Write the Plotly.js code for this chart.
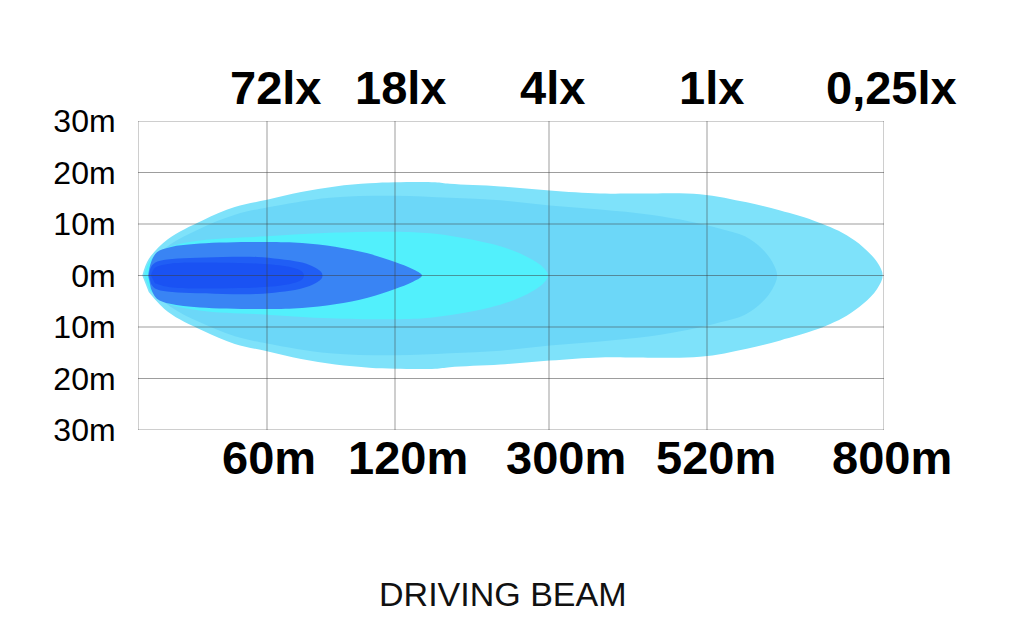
<!DOCTYPE html>
<html>
<head>
<meta charset="utf-8">
<script src="https://cdn.plot.ly/plotly-3.0.1.min.js"></script>
<style>
  html, body { margin: 0; padding: 0; background: #fff; }
  #chart { width: 1024px; height: 640px; }
</style>
</head>
<body>
<div id="chart"></div>
<script>
// ---------- DATA ----------
// distance gridlines (metres) and their labels
const distanceTicks = [0, 60, 120, 300, 520, 800];
const distanceLabels = ['60m', '120m', '300m', '520m', '800m'];
const luxLabels = ['72lx', '18lx', '4lx', '1lx', '0,25lx'];
// lateral gridlines (metres)
const lateralTicks = [30, 20, 10, 0, -10, -20, -30];
const lateralLabels = ['30m', '20m', '10m', '0m', '10m', '20m', '30m'];

// beam contours: distance (m) and half-width (m)
const outerDist = [2, 5, 14, 30, 45, 60, 76, 92, 108, 120, 167, 184, 243, 301, 371, 417, 510, 583, 636, 688, 715, 741, 767, 789, 798];
const outerHalf = [0, 3.2, 7.1, 10.7, 13.3, 14.7, 16.2, 17.3, 17.9, 18.1, 18.1, 17.8, 17.3, 16.5, 15.9, 15.9, 15.8, 14.2, 12.6, 10.7, 9.4, 7.8, 5.5, 2.6, 0];

const secondDist = [3.3, 5.6, 14.9, 28.8, 45.1, 60, 89.5, 120, 184, 243, 301, 371, 441, 496, 541, 580, 607, 624, 631];
const secondHalf = [0, 2.5, 6.0, 9.1, 11.8, 13.2, 15.1, 15.5, 15.1, 14.6, 13.6, 12.8, 11.8, 10.5, 9.1, 7.6, 5.2, 2.5, 0];

const cyanDist = [2.8, 5.6, 12.6, 28.8, 60, 89.5, 120, 161, 196, 231, 260, 280, 293, 299];
const cyanHalf = [0, 2.9, 5.2, 6.8, 7.6, 8.3, 8.5, 8.2, 7.4, 6.2, 4.7, 3.1, 1.6, 0];

const blueDist = [4.7, 6.0, 8.8, 14.9, 28.8, 60, 76.4, 91.9, 107.2, 120, 139.8, 151.5];
const blueHalf = [0, 2.5, 4.5, 5.5, 6.2, 6.5, 6.3, 5.6, 4.3, 2.6, 1.3, 0];

const darkDist = [5.1, 6.0, 7.9, 13.5, 24.2, 39.5, 55.3, 65.9, 75.3, 81.3, 85.4, 86];
const darkHalf = [0, 1.6, 2.5, 3.1, 3.4, 3.6, 3.6, 3.2, 2.6, 1.8, 0.7, 0];

const coreDist = [6, 7.9, 14.9, 38.1, 56.7, 70.3, 76.4, 77.3];
const coreHalf = [0, 1.5, 2.3, 2.5, 2.3, 1.7, 0.8, 0];

// ---------- LAYOUT CONFIG ----------
// display position of each distance gridline on the (non-uniform) horizontal scale
const tickSlot = [0, 129, 257, 411, 569, 746];
const luxShift = [8, 5, 3, 4, 7];
const distShift = [2, 13, 17, 9, 8];

function toAxis(m) {
  for (let i = 1; i < distanceTicks.length; i++) {
    if (m <= distanceTicks[i]) {
      const a = distanceTicks[i - 1], b = distanceTicks[i];
      return tickSlot[i - 1] + (m - a) / (b - a) * (tickSlot[i] - tickSlot[i - 1]);
    }
  }
  return tickSlot[tickSlot.length - 1];
}

function contour(dist, half, color) {
  const inner = dist.slice(1, -1).reverse();
  const innerH = half.slice(1, -1).reverse();
  const xs = dist.map(toAxis).concat(inner.map(toAxis));
  const ys = half.slice().concat(innerH.map(v => -v));
  return {
    type: 'scatter', mode: 'lines', x: xs, y: ys,
    fill: 'toself', fillcolor: color,
    line: { width: 0, shape: 'spline', smoothing: 1, color: color },
    hoverinfo: 'skip', showlegend: false
  };
}

const traces = [
  contour(outerDist, outerHalf, '#7ee2fa'),
  contour(secondDist, secondHalf, '#6cd7f8'),
  contour(cyanDist, cyanHalf, '#52f0fc'),
  contour(blueDist, blueHalf, '#3984f4'),
  contour(darkDist, darkHalf, '#205ef5'),
  contour(coreDist, coreHalf, '#1a52f3')
];

const gridColor = 'rgba(60,60,60,0.5)';
const xMax = tickSlot[tickSlot.length - 1];
const shapes = [];
tickSlot.forEach(v => shapes.push({
  type: 'line', layer: 'above', xref: 'x', yref: 'y',
  x0: v, x1: v, y0: -30, y1: 30, line: { color: gridColor, width: 1 }
}));
lateralTicks.forEach(v => shapes.push({
  type: 'line', layer: 'above', xref: 'x', yref: 'y',
  x0: 0, x1: xMax, y0: v, y1: v, line: { color: gridColor, width: 1 }
}));

const labelFont = { family: 'Liberation Sans, Arial, sans-serif', size: 47, color: '#000', weight: 'bold' };
const annotations = [];
luxLabels.forEach((t, i) => annotations.push({
  text: '<b>' + t + '</b>', xref: 'x', yref: 'paper',
  x: tickSlot[i + 1], y: 1, xanchor: 'center', yanchor: 'middle',
  xshift: luxShift[i], yshift: 34, showarrow: false, font: labelFont
}));
distanceLabels.forEach((t, i) => annotations.push({
  text: '<b>' + t + '</b>', xref: 'x', yref: 'paper',
  x: tickSlot[i + 1], y: 0, xanchor: 'center', yanchor: 'middle',
  xshift: distShift[i], yshift: -27, showarrow: false, font: labelFont
}));

const layout = {
  width: 1024, height: 640,
  margin: { l: 138, r: 140, t: 121, b: 210 },
  paper_bgcolor: '#fff', plot_bgcolor: '#fff',
  showlegend: false,
  title: {
    text: 'DRIVING BEAM',
    font: { family: 'Liberation Sans, Arial, sans-serif', size: 34, color: '#111' },
    x: 0.489, xanchor: 'center', xref: 'paper',
    y: 0.071, yanchor: 'middle', yref: 'container'
  },
  xaxis: {
    range: [0, xMax], showgrid: false, zeroline: false, showline: false,
    showticklabels: false, ticks: '', fixedrange: true
  },
  yaxis: {
    range: [-30, 30], showgrid: false, zeroline: false, showline: false,
    tickvals: lateralTicks, ticktext: lateralLabels,
    ticks: 'outside', ticklen: 15, tickcolor: 'rgba(0,0,0,0)',
    tickfont: { family: 'Liberation Sans, Arial, sans-serif', size: 32, color: '#000' },
    fixedrange: true
  },
  shapes: shapes,
  annotations: annotations
};

Plotly.newPlot('chart', traces, layout, { displayModeBar: false, staticPlot: true });
</script>
</body>
</html>
